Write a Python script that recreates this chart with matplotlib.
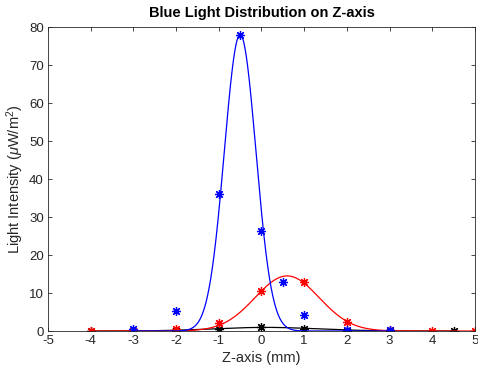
import numpy as np
import matplotlib
matplotlib.use("Agg")
import matplotlib.pyplot as plt

plt.rcParams['font.family'] = ['Liberation Sans', 'DejaVu Sans']
plt.rcParams['mathtext.fontset'] = 'custom'
plt.rcParams['mathtext.rm'] = 'Liberation Sans'
plt.rcParams['mathtext.it'] = 'Liberation Sans:italic'
plt.rcParams['axes.unicode_minus'] = False

# measured points
blue_x = [-3, -2, -1, -0.5, 0, 0.5, 1, 2, 3]
blue_y = [0.5, 5.2, 36, 78, 26.3, 12.8, 4.3, 0.3, 0.3]
red_x = [-4, -3, -2, -1, 0, 1, 2, 3, 4, 5]
red_y = [0.0, 0.1, 0.5, 2.2, 10.6, 13.0, 2.5, 0.3, 0.1, 0.1]
black_x = [-4, -2, -1, 0, 1, 2, 3, 4.5]
black_y = [0.0, 0.1, 0.6, 1.1, 0.6, 0.1, 0.1, 0.1]

# gaussian fit parameters (amplitude, centre, sigma)
blue_fit = (78.0, -0.5, 0.37)
red_fit = (14.5, 0.6, 0.75)
black_fit = (0.95, 0.1, 1.2)

def gauss(x, a, m, s):
    return a * np.exp(-(x - m) ** 2 / (2 * s ** 2))

fig = plt.figure(figsize=(4.78, 3.73), dpi=100)
ax = fig.add_axes([0.1004, 0.1126, 0.8933, 0.815])

star = (8, 2, 0)
mk = dict(marker=star, linestyle='none', ms=6.5, mew=0.9)

xb = np.linspace(-4, 4.5, 400)
ax.plot(xb, gauss(xb, *black_fit), color='black', lw=0.9)
ax.plot(black_x, black_y, color='black', **mk)

xr = np.linspace(-4, 5, 400)
ax.plot(xr, gauss(xr, *red_fit), color='red', lw=0.9)
ax.plot(red_x, red_y, color='red', **mk)

xbl = np.linspace(-3, 3, 600)
ax.plot(xbl, gauss(xbl, *blue_fit), color='blue', lw=0.9)
ax.plot(blue_x, blue_y, color='blue', **mk)

ax.set_xlim(-5, 5)
ax.set_ylim(0, 80)
ax.set_xticks(np.arange(-5, 6, 1))
ax.set_yticks(np.arange(0, 81, 10))
ax.tick_params(direction='in', top=True, right=True, labelsize=9.5, length=3, width=0.6,
               colors='#262626', pad=3)
for sp in ax.spines.values():
    sp.set_linewidth(0.6)
    sp.set_color('#262626')

ax.set_title('Blue Light Distribution on Z-axis', fontsize=10.5, fontweight='bold', pad=7)
ax.set_xlabel('Z-axis (mm)', fontsize=10.5, color='#262626', labelpad=3)
ax.set_ylabel(r'Light Intensity ($\mu$W/m$^2$)', fontsize=10.5, color='#262626', labelpad=2)

fig.savefig('out.png', dpi=100)
